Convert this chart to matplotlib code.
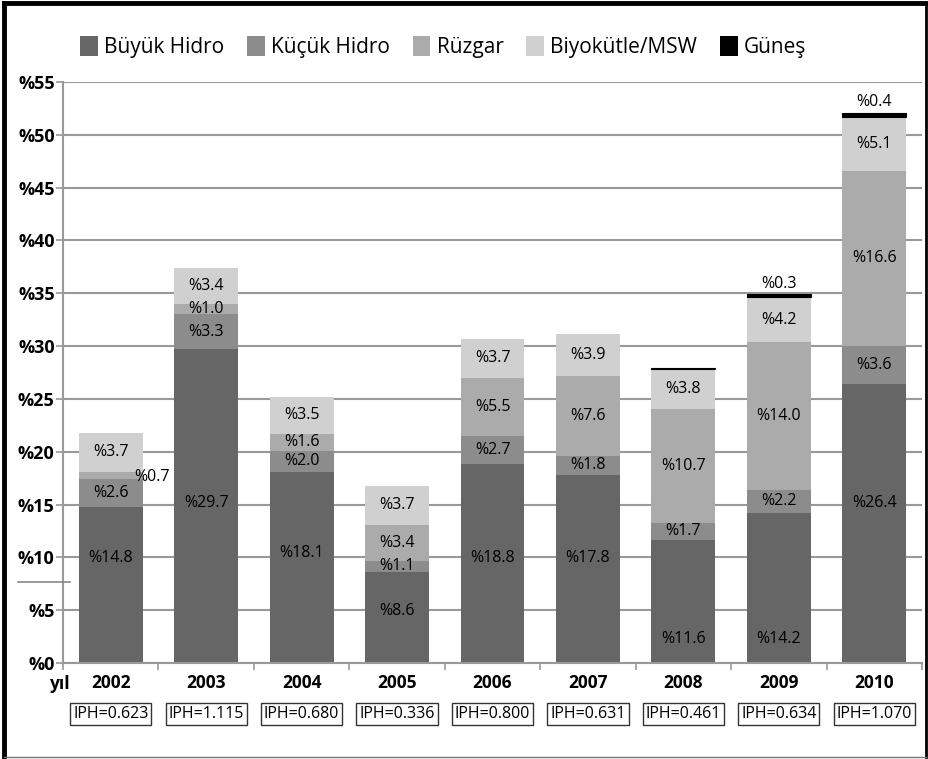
import numpy as np
import matplotlib
matplotlib.use('Agg')
import matplotlib.pyplot as plt
from matplotlib.lines import Line2D

plt.rcParams['font.family'] = ['Open Sans', 'DejaVu Sans']

years = ['2002', '2003', '2004', '2005', '2006', '2007', '2008', '2009', '2010']
buyuk_hidro = [14.8, 29.7, 18.1, 8.6, 18.8, 17.8, 11.6, 14.2, 26.4]
kucuk_hidro = [2.6, 3.3, 2.0, 1.1, 2.7, 1.8, 1.7, 2.2, 3.6]
ruzgar = [0.7, 1.0, 1.6, 3.4, 5.5, 7.6, 10.7, 14.0, 16.6]
biyokutle = [3.7, 3.4, 3.5, 3.7, 3.7, 3.9, 3.8, 4.2, 5.1]
gunes = [0.0, 0.0, 0.0, 0.0, 0.0, 0.0, 0.15, 0.3, 0.4]
iph = ['0.623', '1.115', '0.680', '0.336', '0.800', '0.631', '0.461', '0.634', '1.070']

series = [buyuk_hidro, kucuk_hidro, ruzgar, biyokutle, gunes]
names = ['Büyük Hidro', 'Küçük Hidro', 'Rüzgar', 'Biyokütle/MSW', 'Güneş']
colors = ['#666666', '#8c8c8c', '#ababab', '#d0d0d0', '#000000']

# where the big hydro labels sit (they are not centred in the original)
buyuk_label_y = [9.9, 15.1, 10.4, 4.9, 9.9, 9.9, 2.3, 2.3, 15.1]

fig = plt.figure(figsize=(9.29, 7.59), dpi=100)
ax = fig.add_axes([63/929, 1 - 663/759, (922 - 63)/929, (663 - 82)/759])

lab_fs = 11.5
x = np.arange(len(years))
bottom = np.zeros(len(years))
for vals, name, col in zip(series, names, colors):
    if name == 'Güneş':
        ax.bar(x, vals, 0.67, bottom=bottom, color=col, label=name, zorder=2,
               edgecolor=[col if v > 0 else 'none' for v in vals], linewidth=0.8)
    else:
        ax.bar(x, vals, 0.67, bottom=bottom, color=col, label=name, zorder=2)
    for i, v in enumerate(vals):
        if v == 0:
            continue
        txt = '%' + f'{v:.1f}'
        if name == 'Büyük Hidro':
            ax.text(i, buyuk_label_y[i], txt, ha='center', va='center', fontsize=lab_fs, zorder=3)
        elif name == 'Güneş':
            if v >= 0.3:
                ax.text(i, bottom[i] + v + 1.0, txt, ha='center', va='center', fontsize=lab_fs, zorder=3)
        elif name == 'Rüzgar' and v < 0.9:
            ax.text(i + 0.43, bottom[i] + v / 2 - 0.1, txt, ha='center', va='center', fontsize=lab_fs, zorder=3)
        else:
            ax.text(i, bottom[i] + v / 2, txt, ha='center', va='center', fontsize=lab_fs, zorder=3)
    bottom += np.array(vals)

ax.set_xlim(-0.5, len(years) - 0.5)
ax.set_ylim(0, 55)
ax.set_yticks(range(0, 56, 5))
ax.set_yticklabels(['%' + str(t) for t in range(0, 56, 5)], fontsize=13, fontweight='bold')
ax.yaxis.grid(True, color='#999999', linewidth=1.5, zorder=0)
ax.set_axisbelow(True)
ax.tick_params(axis='y', length=5, color='#999999', width=1.2, pad=1)

ax.set_xticks(np.arange(-0.5, len(years), 1))
ax.set_xticklabels([])
ax.set_xticks(x, minor=True)
ax.set_xticklabels(years, minor=True, fontsize=12.5, fontweight='bold')
ax.tick_params(axis='x', which='major', length=5, color='#999999', width=1.2)
ax.tick_params(axis='x', which='minor', length=0, pad=8)

for side in ['top', 'right']:
    ax.spines[side].set_visible(False)
ax.spines['left'].set_color('#999999')
ax.spines['left'].set_linewidth(1.5)
ax.spines['bottom'].set_color('#999999')
ax.spines['bottom'].set_linewidth(1.5)

ax.text(-0.42, -2.0, 'yıl', ha='right', va='center', fontsize=12.5, fontweight='bold')

for i, v in enumerate(iph):
    ax.text(i, -4.8, 'IPH=' + v, ha='center', va='center', fontsize=11.5,
            bbox=dict(boxstyle='square,pad=0.18', facecolor='white', edgecolor='#333333', linewidth=1))

fig.legend(loc='center', bbox_to_anchor=(0.477, 0.938), ncol=5, frameon=False,
           fontsize=15, handlelength=0.85, handleheight=1.1, handletextpad=0.3, columnspacing=1.1)

# short stray mark on the y axis and the outer frame
fig.add_artist(Line2D([18/929, 70/929], [1 - 582/759, 1 - 582/759], color='#888888', linewidth=1.2))
fig.add_artist(Line2D([0.004, 0.004], [0.002, 0.996], color='black', linewidth=3.5))
fig.add_artist(Line2D([0.004, 0.997], [0.996, 0.996], color='black', linewidth=3.5))
fig.add_artist(Line2D([0.997, 0.997], [0.996, 0.002], color='black', linewidth=2))
fig.add_artist(Line2D([0.004, 0.997], [0.003, 0.003], color='#777777', linewidth=1))

fig.savefig('out.png', dpi=100)
